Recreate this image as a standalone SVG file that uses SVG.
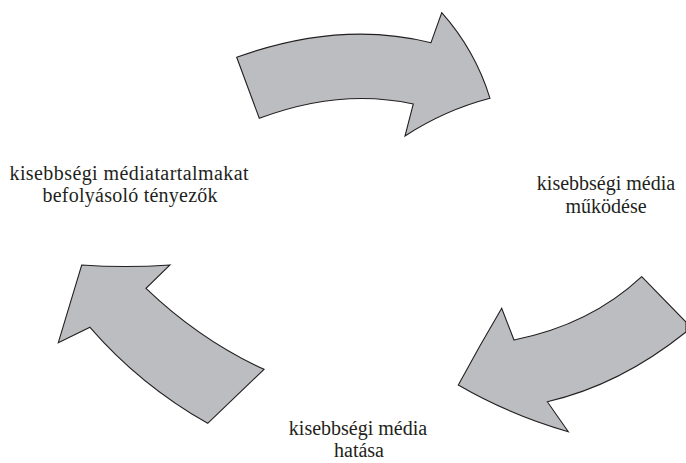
<svg xmlns="http://www.w3.org/2000/svg" width="686" height="463" viewBox="0 0 686 463">
<style>
.arrow{fill:#bcbdc0;stroke:#231f20;stroke-width:1.1;stroke-linejoin:miter}
.lbl{font-family:"Liberation Serif",serif;font-size:20px;fill:#231f20;text-anchor:middle}
</style>
<rect width="686" height="463" fill="#ffffff"/>
<g id="connectors">
<path id="arrow-top" class="arrow" d="M236.7,57.3 Q340,20 431,42.7 L441.7,12.7 Q475,50 490,98.3 Q445,110 405,136 L413.3,104 Q340,88 259.3,118.3 Z"/>
<path id="arrow-right" class="arrow" d="M641.7,276.7 L686,322 L686,332 Q620,385 547.3,401.7 L568.3,431.7 Q510,415 458.3,385 Q480,345 501.7,308.3 L514,340 Q590,325 641.7,276.7 Z"/>
<path id="arrow-left" class="arrow" d="M81.7,265 Q125,268 170,265 L146,288.3 Q200,340 264,369.3 L207.7,423.3 Q140,385 90,327.3 L58.3,342.7 Z"/>
</g>
<g id="node-factors">
<text class="lbl" x="129" y="180" textLength="239" lengthAdjust="spacing">kisebbségi médiatartalmakat</text>
<text class="lbl" x="130" y="202" textLength="175" lengthAdjust="spacing">befolyásoló tényezők</text>
</g>
<g id="node-operation">
<text class="lbl" x="606" y="190">kisebbségi média</text>
<text class="lbl" x="606" y="213">működése</text>
</g>
<g id="node-effect">
<text class="lbl" x="358" y="435">kisebbségi média</text>
<text class="lbl" x="359" y="457">hatása</text>
</g>
</svg>
